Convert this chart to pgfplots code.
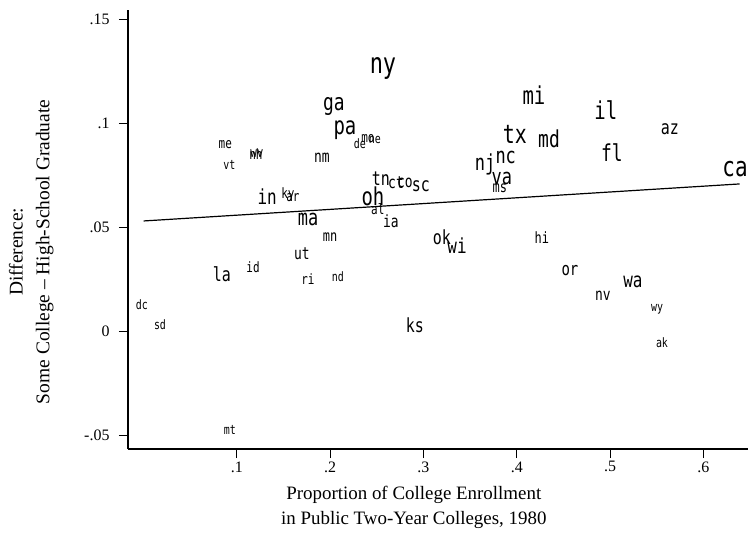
\documentclass[border=0pt]{standalone}
\usepackage{fontspec}
\setmainfont{Liberation Serif}
\newfontfamily\labfont{DejaVu Sans Mono}
\usepackage{pgfplots}
\pgfplotsset{compat=1.18}
\pgfplotsset{lbl/.style={draw=none, mark=none, nodes near coords={\scalebox{1}[1.3]{\pgfplotspointmeta}}, point meta=explicit symbolic,
  every node near coord/.append style={anchor=center, inner sep=0pt, text=black,
    font=\labfont\fontsize{#1}{#1}\selectfont}}}
\begin{document}
\begin{tikzpicture}
\path[use as bounding box] (-128bp,-86bp) rectangle (620bp,449bp);
\begin{axis}[
  scale only axis, width=620bp, height=439bp,
  xmin=-0.0167, xmax=0.6479, ymin=-0.0567, ymax=0.1543,
  axis lines=left, axis line style={-, line width=1.1bp},
  clip=false,
  tick align=outside, major tick length=9bp,
  tick style={black, line width=0.8bp},
  xtick={0.1,0.2,0.3,0.4,0.5,0.6},
  xticklabels={.1,.2,.3,.4,.5,.6},
  ytick={-0.05,0,0.05,0.1,0.15},
  yticklabels={-.05,0,.05,.1,.15},
  tick label style={font=\fontsize{16}{16}\selectfont},
  yticklabel style={xshift=-6bp},
  xlabel={Proportion of College Enrollment\\in Public Two-Year Colleges, 1980},
  xlabel style={align=center, font=\fontsize{19}{25}\selectfont, at={(axis description cs:0.461,-0.132)}, anchor=center},
  ylabel={Difference:\\Some College -- High-School Graduate},
  ylabel style={align=center, font=\fontsize{19.5}{27}\selectfont, at={(axis description cs:-0.156,0.449)}, anchor=center},
]
\addplot[black, line width=1.2bp] coordinates {(0,0.0529) (0.639,0.0707)};
\addplot[lbl=22] coordinates {(0.2566,0.1264) [ny]};
\addplot[lbl=21] coordinates {(0.6340,0.0779) [ca]};
\addplot[lbl=20] coordinates {(0.3980,0.0943) [tx]};
\addplot[lbl=19] coordinates {(0.2159,0.0966) [pa] (0.4184,0.1135) [mi] (0.4955,0.1062) [il] (0.2459,0.0649) [oh]};
\addplot[lbl=18] coordinates {(0.2040,0.1077) [ga] (0.4346,0.0923) [md] (0.5020,0.0856) [fl]};
\addplot[lbl=17] coordinates {(0.3660,0.0803) [nj] (0.3882,0.0832) [nc] (0.3840,0.0731) [va] (0.1763,0.0534) [ma]};
\addplot[lbl=16] coordinates {(0.1324,0.0644) [in] (0.3360,0.0409) [wi] (0.5246,0.0236) [wa]};
\addplot[lbl=15] coordinates {(0.5642,0.0971) [az] (0.2544,0.0731) [tn] (0.2972,0.0697) [sc] (0.3198,0.0452) [ok] (0.0840,0.0274) [la] (0.2909,0.0029) [ks]};
\addplot[lbl=14] coordinates {(0.4570,0.0293) [or]};
\addplot[lbl=13] coordinates {(0.1911,0.0832) [nm] (0.2706,0.0712) [ct] (0.2802,0.0712) [co] (0.2652,0.0529) [ia] (0.4924,0.0168) [nv] (0.1697,0.0370) [ut]};
\addplot[lbl=12] coordinates {(0.3819,0.0688) [ms] (0.1999,0.0452) [mn] (0.4270,0.0447) [hi]};
\addplot[lbl=11] coordinates {(0.2405,0.0923) [mo] (0.0876,0.0894) [me] (0.1204,0.0851) [nh] (0.1215,0.0851) [wv] (0.1548,0.0658) [ky] (0.1601,0.0639) [ar] (0.2511,0.0587) [al] (0.1173,0.0308) [id] (0.1761,0.0250) [ri]};
\addplot[lbl=10] coordinates {(0.2319,0.0899) [de] (0.2480,0.0918) [ne] (0.0919,0.0798) [vt] (0.5504,0.0106) [wy] (0.5557,-0.0058) [ak] (0.2083,0.0260) [nd] (-0.0017,0.0125) [dc] (0.0176,0.0029) [sd] (0.0926,-0.0476) [mt]};
\end{axis}
\end{tikzpicture}
\end{document}
